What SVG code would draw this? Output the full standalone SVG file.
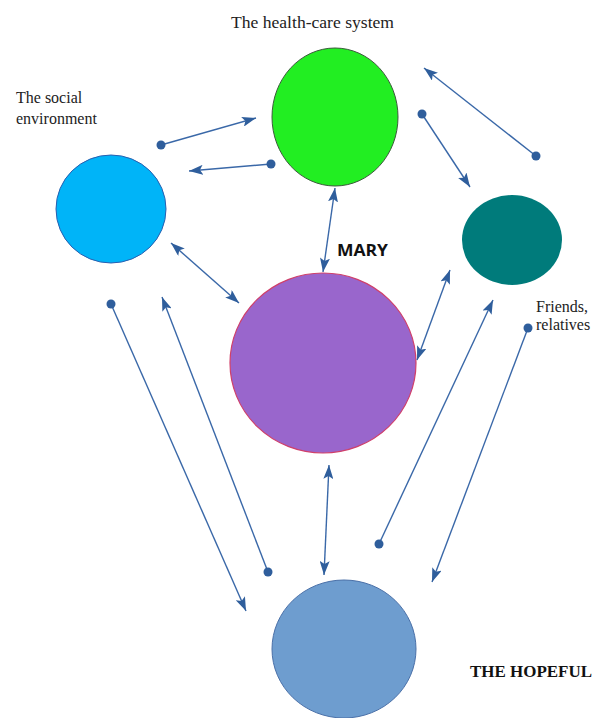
<svg xmlns="http://www.w3.org/2000/svg" width="602" height="718" viewBox="0 0 602 718">
<style>
.lbl{font-family:"Liberation Serif","Times New Roman",serif;font-size:16px;fill:#222}
.c{stroke:#3a68a8;stroke-width:1.4;fill:none}
.dot{fill:#2f5e9c}
</style>
<defs>
<marker id="ah" viewBox="0 0 14 10" refX="14" refY="5" markerWidth="14" markerHeight="10" markerUnits="userSpaceOnUse" orient="auto-start-reverse">
<path d="M0,0 L14,5 L0,10 L3,5 Z" fill="#2f5e9c"/>
</marker>
</defs>
<rect width="602" height="718" fill="#fff"/>
<g id="health-care">
<ellipse cx="335" cy="117" rx="63" ry="69" fill="#22ee22" stroke="#3c5a3c" stroke-width="1"/>
<text class="lbl" x="231" y="28" textLength="163" lengthAdjust="spacingAndGlyphs">The health-care system</text>
</g>
<g id="social">
<ellipse cx="111" cy="209" rx="55" ry="54" fill="#00b4f8" stroke="#2a5fb0" stroke-width="1"/>
<text class="lbl" x="16" y="103">The social</text>
<text class="lbl" x="16" y="124">environment</text>
</g>
<g id="friends">
<ellipse cx="512" cy="240" rx="50" ry="45" fill="#007b7b"/>
<text class="lbl" x="536" y="312">Friends,</text>
<text class="lbl" x="536" y="330">relatives</text>
</g>
<g id="mary">
<ellipse cx="323" cy="363" rx="93" ry="90" fill="#9966cc" stroke="#d0406a" stroke-width="1.2"/>
<text x="337" y="256" font-family="'Open Sans','Liberation Sans',sans-serif" font-weight="bold" font-size="16.5" fill="#111" textLength="51" lengthAdjust="spacingAndGlyphs">MARY</text>
</g>
<g id="hopeful">
<ellipse cx="344" cy="649" rx="72" ry="69" fill="#6e9dcf" stroke="#4a70a8" stroke-width="1"/>
<text x="470" y="677" font-family="'Liberation Serif','Times New Roman',serif" font-weight="bold" font-size="17" fill="#111" textLength="122" lengthAdjust="spacingAndGlyphs">THE HOPEFUL</text>
</g>
<g id="connectors">
<line class="c" x1="161" y1="145" x2="256" y2="118" marker-end="url(#ah)"/>
<circle class="dot" cx="161" cy="145" r="4.5"/>
<line class="c" x1="271" y1="164" x2="189" y2="171" marker-end="url(#ah)"/>
<circle class="dot" cx="271" cy="164" r="4.5"/>
<line class="c" x1="422" y1="114" x2="470" y2="187" marker-end="url(#ah)"/>
<circle class="dot" cx="422" cy="114" r="4.5"/>
<line class="c" x1="536" y1="156" x2="424" y2="68" marker-end="url(#ah)"/>
<circle class="dot" cx="536" cy="156" r="4.5"/>
<line class="c" x1="335" y1="188" x2="323" y2="272" marker-start="url(#ah)" marker-end="url(#ah)"/>
<line class="c" x1="171" y1="243" x2="239" y2="303" marker-start="url(#ah)" marker-end="url(#ah)"/>
<line class="c" x1="450" y1="270" x2="417" y2="360" marker-start="url(#ah)" marker-end="url(#ah)"/>
<line class="c" x1="329" y1="465" x2="324" y2="575" marker-start="url(#ah)" marker-end="url(#ah)"/>
<line class="c" x1="111" y1="304" x2="246" y2="611" marker-end="url(#ah)"/>
<circle class="dot" cx="111" cy="304" r="4.5"/>
<line class="c" x1="268" y1="572" x2="162" y2="297" marker-end="url(#ah)"/>
<circle class="dot" cx="268" cy="572" r="4.5"/>
<line class="c" x1="379" y1="544" x2="493" y2="300" marker-end="url(#ah)"/>
<circle class="dot" cx="379" cy="544" r="4.5"/>
<line class="c" x1="528" y1="328" x2="432" y2="582" marker-end="url(#ah)"/>
<circle class="dot" cx="528" cy="328" r="4.5"/>
</g>
</svg>
